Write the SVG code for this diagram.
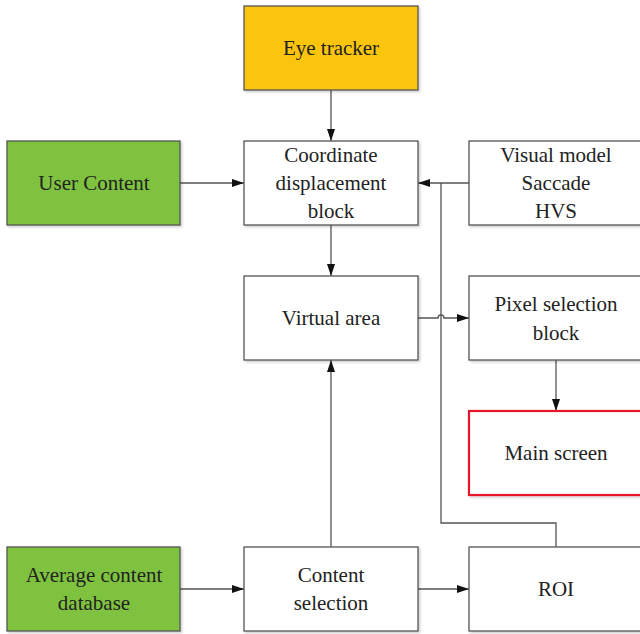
<svg xmlns="http://www.w3.org/2000/svg" width="640" height="634" viewBox="0 0 640 634">
<defs>
<marker id="arr" markerWidth="12" markerHeight="8" refX="12" refY="4" orient="auto" markerUnits="userSpaceOnUse">
<path d="M0,0 L12,4 L0,8 Z" fill="#111"/>
</marker>
<filter id="sh" x="-5%" y="-5%" width="115%" height="115%">
<feDropShadow dx="1.5" dy="1.5" stdDeviation="1" flood-color="#000" flood-opacity="0.2"/>
</filter>
</defs>
<style>
.box{fill:#fff;stroke:#555;stroke-width:1.3;filter:url(#sh)}
.yel{fill:#FBC50C}
.grn{fill:#7FC241}
.red{stroke:#E8192C;stroke-width:2.2}
.t{font-family:'Liberation Serif','DejaVu Serif','Times New Roman',serif;font-size:21px;fill:#222;text-anchor:middle}
.ln{fill:none;stroke:#555;stroke-width:1.3}
.ar{marker-end:url(#arr)}
</style>
<rect width="640" height="634" fill="#fff"/>
<g id="connectors">
<line class="ln ar" x1="331" y1="90" x2="331" y2="141"/>
<line class="ln ar" x1="180" y1="183" x2="244" y2="183"/>
<line class="ln ar" x1="469" y1="183" x2="418" y2="183"/>
<line class="ln ar" x1="331" y1="225" x2="331" y2="276"/>
<path class="ln ar" d="M418,318 H438 A3,3 0 0 1 444,318 H469"/>
<line class="ln ar" x1="556" y1="360" x2="556" y2="411"/>
<line class="ln ar" x1="331" y1="547" x2="331" y2="360"/>
<line class="ln ar" x1="180" y1="589" x2="244" y2="589"/>
<line class="ln ar" x1="418" y1="589" x2="469" y2="589"/>
<path class="ln" d="M556,547 V523 H441 V183"/>
</g>
<g class="t" font-family="Liberation Serif, DejaVu Serif, serif">
<g id="eye-tracker"><rect class="box yel" x="244" y="6" width="174" height="84"/><text x="331" y="55">Eye tracker</text></g>
<g id="user-content"><rect class="box grn" x="7" y="141" width="173" height="84"/><text x="94" y="190">User Content</text></g>
<g id="coordinate"><rect class="box" x="244" y="141" width="174" height="84"/><text x="331" y="162">Coordinate</text><text x="331" y="190">displacement</text><text x="331" y="218">block</text></g>
<g id="visual-model"><rect class="box" x="469" y="141" width="174" height="84"/><text x="556" y="162">Visual model</text><text x="556" y="190">Saccade</text><text x="556" y="218">HVS</text></g>
<g id="virtual-area"><rect class="box" x="244" y="276" width="174" height="84"/><text x="331" y="325">Virtual area</text></g>
<g id="pixel-selection"><rect class="box" x="469" y="276" width="174" height="84"/><text x="556" y="311">Pixel selection</text><text x="556" y="340">block</text></g>
<g id="main-screen"><rect class="box red" x="469" y="411" width="174" height="84"/><text x="556" y="460">Main screen</text></g>
<g id="average-content"><rect class="box grn" x="7" y="547" width="173" height="84"/><text x="94" y="582">Average content</text><text x="94" y="610">database</text></g>
<g id="content-selection"><rect class="box" x="244" y="547" width="174" height="84"/><text x="331" y="582">Content</text><text x="331" y="610">selection</text></g>
<g id="roi"><rect class="box" x="469" y="547" width="174" height="84"/><text x="556" y="596">ROI</text></g>
</g>
</svg>
